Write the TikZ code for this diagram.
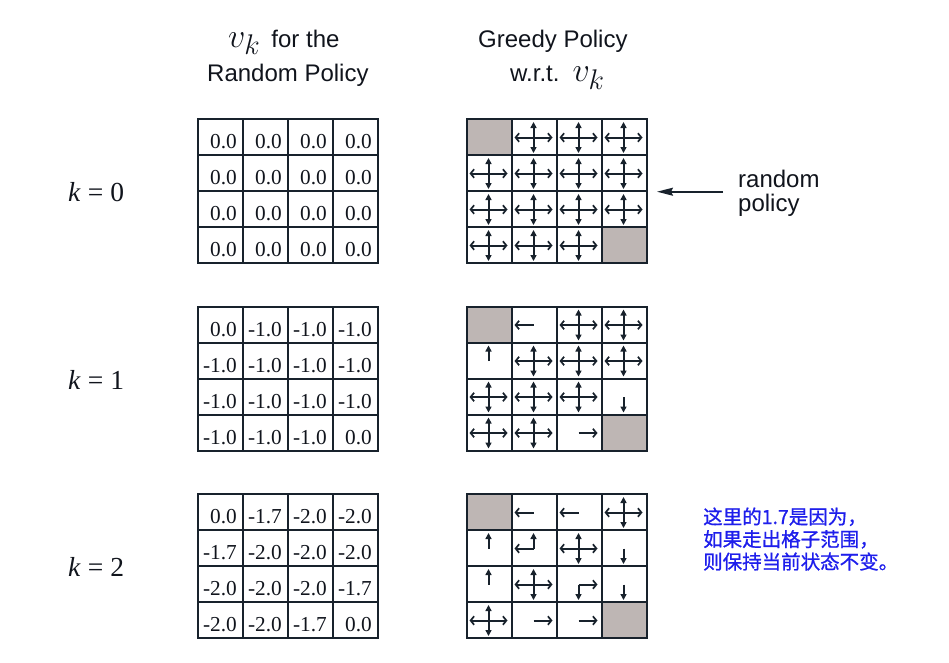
\documentclass[tikz,border=0pt]{standalone}
\usepackage{fontspec}
\setmainfont{Liberation Serif}
\setsansfont{Liberation Sans}
\newfontfamily\cjk[FakeBold=0.9]{Noto Sans CJK SC}
\usetikzlibrary{arrows.meta}
\definecolor{gridc}{RGB}{24,34,44}
\definecolor{termc}{RGB}{190,182,180}
\definecolor{notec}{RGB}{30,30,235}
\definecolor{inkc}{RGB}{16,20,28}
\newcommand\bigvk{{\fontsize{24.88}{25}\selectfont\scalebox{1.37}{$v_k$}}}
\tikzset{
  gridl/.style={draw=gridc, line width=2pt, line cap=rect},
  num/.style={anchor=base east, inner sep=0pt, text=inkc, font=\fontsize{21.3}{21.3}\selectfont},
  hdr/.style={anchor=base west, inner sep=0pt, text=inkc, font=\sffamily\fontsize{24}{24}\selectfont},
  klab/.style={anchor=base west, inner sep=0pt, text=inkc, font=\fontsize{27.5}{27.5}\selectfont},
  cn/.style={anchor=base west, inner sep=0pt, text=notec, font=\cjk\fontsize{19.5}{19.5}\selectfont},
  harr/.style={draw=gridc, line width=2pt, -{Straight Barb[length=3.5pt,width=8.5pt,line width=1.7pt]}},
  varr/.style={draw=gridc, line width=2pt, -{Triangle[length=6pt,width=6pt]}},
  bigarr/.style={draw=gridc, line width=1.7pt, -{Stealth[length=16pt,width=8pt,inset=2pt]}}
}
\newcommand\gridlines[2]{%
  \foreach \k in {0,...,4} {
    \draw[gridl] (#1+45*\k,#2) -- (#1+45*\k,#2+144);
    \draw[gridl] (#1,#2+36*\k) -- (#1+180,#2+36*\k);
  }%
}
\newcommand\valgrid[4]{%
  \foreach \v [count=\i from 0] in {#4} {
    \pgfmathsetmacro\cx{#1+45*mod(\i,4)+45-6}
    \pgfmathsetmacro\cy{#2+36*int(\i/4)+29.5}
    \node[num] (#3-\i) at (\cx,\cy) {\v};
  }
  \gridlines{#1}{#2}%
}
\newcommand\greedy[3]{%
  \foreach \g/\aL/\aR/\aU/\aD [count=\i from 0] in {#3} {
    \pgfmathsetmacro\cx{#1+45*mod(\i,4)}
    \pgfmathsetmacro\cy{#2+36*int(\i/4)}
    \ifnum\g=1 \fill[termc] (\cx,\cy) rectangle ++(45,36); \fi
    \ifnum\aL=1 \draw[harr] (\cx+21.5,\cy+18.5) -- (\cx+2.5,\cy+18.5); \fi
    \ifnum\aR=1 \draw[harr] (\cx+21.5,\cy+18.5) -- (\cx+40.5,\cy+18.5); \fi
    \ifnum\aU=1 \draw[varr] (\cx+21.5,\cy+18.5) -- (\cx+21.5,\cy+3); \fi
    \ifnum\aD=1 \draw[varr] (\cx+21.5,\cy+18.5) -- (\cx+21.5,\cy+34); \fi
  }
  \gridlines{#1}{#2}%
}
\begin{document}
\begin{tikzpicture}[x=1pt,y=-1pt]
\useasboundingbox (0,0) rectangle (949,662);
% headers
\node[hdr] (h1) at (228,47) {\bigvk\hspace{11pt}for the};
\node[hdr] (h2) at (207,81.5) {Random Policy};
\node[hdr] (h3) at (478,47.5) {Greedy Policy};
\node[hdr] (h4) at (510,81.5) {w.r.t.\hspace{13pt}\bigvk};
% k labels
\node[klab] (k0) at (68,201.5) {\textit{k}\hspace{7pt}=\hspace{7pt}0};
\node[klab] (k1) at (68,389) {\textit{k}\hspace{7pt}=\hspace{7pt}1};
\node[klab] (k2) at (68,576.5) {\textit{k}\hspace{7pt}=\hspace{7pt}2};
% value grids
\valgrid{198}{119}{va}{0.0,0.0,0.0,0.0,0.0,0.0,0.0,0.0,0.0,0.0,0.0,0.0,0.0,0.0,0.0,0.0}
\valgrid{198}{306.5}{vb}{0.0,-1.0,-1.0,-1.0,-1.0,-1.0,-1.0,-1.0,-1.0,-1.0,-1.0,-1.0,-1.0,-1.0,-1.0,0.0}
\valgrid{198}{494}{vc}{0.0,-1.7,-2.0,-2.0,-1.7,-2.0,-2.0,-2.0,-2.0,-2.0,-2.0,-1.7,-2.0,-2.0,-1.7,0.0}
% greedy grids (g/L/R/U/D)
\greedy{467}{119}{1/0/0/0/0,0/1/1/1/1,0/1/1/1/1,0/1/1/1/1,
 0/1/1/1/1,0/1/1/1/1,0/1/1/1/1,0/1/1/1/1,
 0/1/1/1/1,0/1/1/1/1,0/1/1/1/1,0/1/1/1/1,
 0/1/1/1/1,0/1/1/1/1,0/1/1/1/1,1/0/0/0/0}
\greedy{467}{306.5}{1/0/0/0/0,0/1/0/0/0,0/1/1/1/1,0/1/1/1/1,
 0/0/0/1/0,0/1/1/1/1,0/1/1/1/1,0/1/1/1/1,
 0/1/1/1/1,0/1/1/1/1,0/1/1/1/1,0/0/0/0/1,
 0/1/1/1/1,0/1/1/1/1,0/0/1/0/0,1/0/0/0/0}
\greedy{467}{494}{1/0/0/0/0,0/1/0/0/0,0/1/0/0/0,0/1/1/1/1,
 0/0/0/1/0,0/1/0/1/0,0/1/1/1/1,0/0/0/0/1,
 0/0/0/1/0,0/1/1/1/1,0/0/1/0/1,0/0/0/0/1,
 0/1/1/1/1,0/0/1/0/0,0/0/1/0/0,1/0/0/0/0}
% random policy
\node[hdr] (rp1) at (738,187) {random};
\node[hdr] (rp2) at (738,211.5) {policy};
\coordinate (rpa) at (723,191.7);
\coordinate (rpb) at (657,191.7);
\draw[bigarr] (rpa) -- (rpb);
% note
\node[cn] (n1) at (703,524) {这里的1.7是因为，};
\node[cn] (n2) at (703,546.5) {如果走出格子范围，};
\node[cn] (n3) at (703,569) {则保持当前状态不变。};
\end{tikzpicture}
\end{document}
